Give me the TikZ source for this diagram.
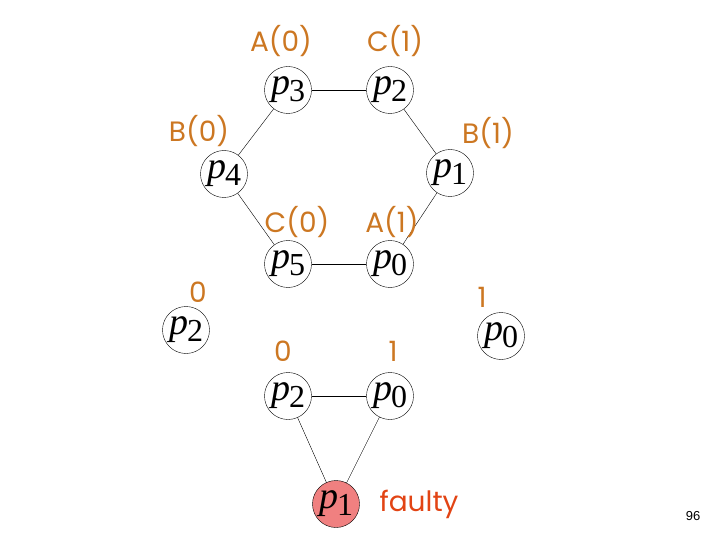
\documentclass[tikz,border=0pt]{standalone}
\usepackage{fontspec}
\setmainfont{Liberation Serif}
\newfontfamily\lblfont{Poppins}
\newfontfamily\pgfont{Liberation Sans}
\usepackage{tikz}
\usetikzlibrary{calc}
\definecolor{lblorange}{RGB}{204,119,34}
\definecolor{faultred}{RGB}{226,68,20}
\definecolor{faultfill}{RGB}{240,128,128}
\def\P#1{{\fontsize{38}{38}\selectfont\itshape p\kern-1pt\upshape\raisebox{-7pt}{\fontsize{32}{32}\selectfont #1}}}
\tikzset{
  proc/.style={circle,draw,thin,minimum size=47pt,inner sep=0pt},
  lbl/.style={text=lblorange,inner sep=1pt,font=\lblfont\fontsize{28}{28}\selectfont},
}

\begin{document}
\begin{tikzpicture}[x=1pt,y=-1pt]
    \useasboundingbox (0,0) rectangle (720,540);
    % hexagon
    \draw
    (288,90) node[proc](p3){\P3}
    (390,90) node[proc](p2){\P2}
    (224,174) node[proc](p4){\P4}
    (450,173) node[proc](p1){\P1}
    (288,264) node[proc](p5){\P5}
    (390,264) node[proc](p0){\P0};
    \draw (p3) edge (p2)
               edge (p4)
          (p2) edge (p1)
          (p4) edge (p5)
          (p1) edge (p0)
          (p5) edge (p0);
    \draw
    (281,41) node[lbl](a0){A(0)}
    (395,41) node[lbl](c1){C(1)}
    (199,131) node[lbl](b0){B(0)}
    (488,133) node[lbl](b1){B(1)}
    (297,222) node[lbl](c0){C(0)}
    (392,222) node[lbl](a1){A(1)};
    % split off
    \draw
    (186,330) node[proc](q2){\P2}
    (501,336) node[proc](q0){\P0}
    (198,292) node[lbl](v0){0}
    (482,297) node[lbl](v1){1};
    % triangle
    \draw
    (288,396) node[proc](r2){\P2}
    (390,396) node[proc](r0){\P0}
    (336,504) node[proc,fill=faultfill](r1){\P1}
    (283,351) node[lbl](w0){0}
    (393,351) node[lbl](w1){1}
    (419,504) node[lbl,text=faultred](flt){faulty};
    \draw (r2) edge (r0)
               edge (r1)
          (r0) edge (r1);
    \draw (693,516) node[font=\pgfont\fontsize{13}{13}\selectfont](pg){96};
\end{tikzpicture}
\end{document}
